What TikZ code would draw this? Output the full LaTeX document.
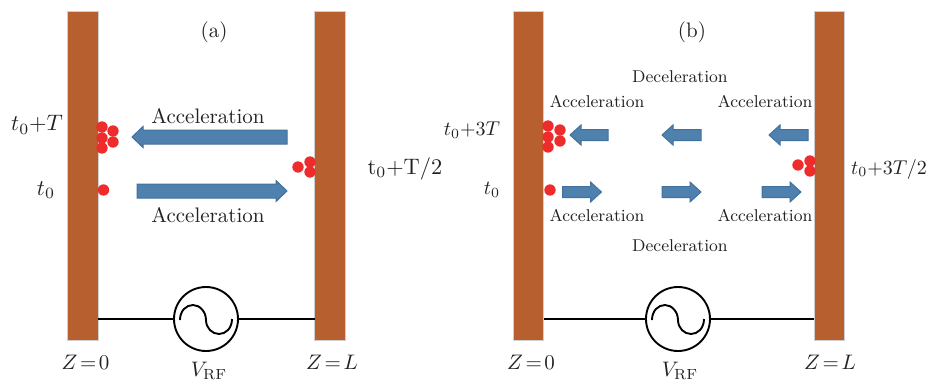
\RequirePackage{fix-cm}
\documentclass[tikz,border=0pt]{standalone}
\definecolor{plateC}{HTML}{B85F2F}
\definecolor{plateB}{HTML}{CFCFCF}
\definecolor{arrowC}{HTML}{4F81AF}
\definecolor{arrowB}{HTML}{41719C}
\definecolor{dotC}{HTML}{EE2C2C}
\definecolor{txt}{HTML}{222222}
\tikzset{
  plate/.style={draw=plateB,fill=plateC,line width=0.4pt,minimum width=15.25pt,minimum height=164.5pt,inner sep=0pt,outer sep=0pt},
  src/.style={circle,draw=black,line width=0.95pt,fill=white,minimum size=32pt,inner sep=0pt,outer sep=0pt},
  wire/.style={line width=0.95pt,draw=black},
  wave/.style={line width=0.95pt,draw=black},
  bunch/.style={circle,fill=dotC,minimum size=5.7pt,inner sep=0pt,outer sep=0pt},
  lbla/.style={font=\fontsize{10.5}{12}\selectfont,text=txt,inner sep=0pt},
  lblt/.style={font=\fontsize{11.2}{13}\selectfont,text=txt,inner sep=0pt},
  lblb/.style={font=\fontsize{8.55}{11}\selectfont,text=txt,inner sep=0pt},
  lblm/.style={font=\fontsize{10}{12}\selectfont,text=txt,inner sep=0pt},
  flow/.style={draw=arrowB,fill=arrowC,line width=0.5pt,line join=miter},
}
% tail x, tip x, y, shaft half height, head half height, head length (signed by direction)
\newcommand{\flowarrow}[6]{\path[flow] (#1,#3-#4) -- ({#2-(#6)},#3-#4) -- ({#2-(#6)},#3-#5) -- (#2,#3) -- ({#2-(#6)},#3+#5) -- ({#2-(#6)},#3+#4) -- (#1,#3+#4) -- cycle;}
\newcommand{\sinewave}[2]{\path[wave] (#1-26,#2+1) .. controls (#1-26,#2-8) and (#1-20,#2-14) .. (#1-13,#2-14) .. controls (#1-6,#2-14) and (#1,#2-7) .. (#1,#2+1) .. controls (#1,#2+9) and (#1+6,#2+15) .. (#1+13,#2+15) .. controls (#1+20,#2+15) and (#1+26,#2+9) .. (#1+26,#2);}
\newcommand{\tsp}{\mskip2.2mu}
\begin{document}
\begin{tikzpicture}[x=0.5pt,y=-0.5pt]
\useasboundingbox (0,0) rectangle (928,380);
% --- panel (a)
\node[plate] (pa1) at (83,175.5) {};
\node[plate] (pa2) at (330,175.5) {};
\node[src] (sa) at (206,319) {};
\draw[wire] (sa.west) -- (sa.west -| pa1.east);
\draw[wire] (sa.east) -- (sa.east -| pa2.west);
\sinewave{206}{319}
\flowarrow{287}{132}{137}{7}{10.5}{-11}
\flowarrow{137}{287}{191}{7}{10.5}{11}
\foreach \n/\x/\y in {a/102/127,b/113/131,c/102/138,d/113/142,e/102/148,f/103.5/190,g/298/167,h/310/162,i/310/172}
  \node[bunch] (da\n) at (\x,\y) {};
\node[lbla] (ta) at (214,32) {(a)};
\node[lbla] (a1) at (208,116) {Acceleration};
\node[lbla] (a2) at (208,215) {Acceleration};
\node[lblt] (a3) at (37,125) {$t_0{+}T$};
\node[lblt] (a4) at (46,190) {$t_0$};
\node[lblt] (a5) at (405,169) {$\mathrm{t_0{+}T/2}$};
\node[lbla] (a6) at (85.5,362) {$Z\tsp{=}\tsp0$};
\node[lbla] (a7) at (332,362) {$Z\tsp{=}\tsp L$};
\node[lbla] (a8) at (209,371) {$V_{\mathrm{RF}}$};
% --- panel (b)
\node[plate] (pb1) at (528.5,175.5) {};
\node[plate] (pb2) at (829.5,175.5) {};
\node[src] (sb) at (678,319) {};
\draw[wire] (sb.west) -- (sb.west -| pb1.east);
\draw[wire] (sb.east) -- (sb.east -| pb2.west);
\sinewave{678}{319}
\flowarrow{608}{570}{135}{5.5}{10}{-11}
\flowarrow{701}{662}{135}{5.5}{10}{-11}
\flowarrow{808}{769}{135}{5.5}{10}{-11}
\flowarrow{562.5}{601.5}{192}{5.5}{10}{11}
\flowarrow{662}{701}{192}{5.5}{10}{11}
\flowarrow{762}{801}{192}{5.5}{10}{11}
\foreach \n/\x/\y in {a/548/126,b/560/130,c/548/137,d/560/141,e/548/147,f/550/190,g/798/165,h/810/161,i/810/171}
  \node[bunch] (db\n) at (\x,\y) {};
\node[lbla] (tb) at (692,32) {(b)};
\node[lblb] (b1) at (680,77) {Deceleration};
\node[lblb] (b2) at (680,246) {Deceleration};
\node[lblb] (b3) at (597,101) {Acceleration};
\node[lblb] (b4) at (765,101) {Acceleration};
\node[lblb] (b5) at (597,215) {Acceleration};
\node[lblb] (b6) at (765,215) {Acceleration};
\node[lblm] (b7) at (472,130) {$t_0{+}3T$};
\node[lblm] (b8) at (492,190) {$t_0$};
\node[lblm] (b9) at (889,169) {$t_0{+}3T/2$};
\node[lbla] (b10) at (531,362) {$Z\tsp{=}\tsp0$};
\node[lbla] (b11) at (830,362) {$Z\tsp{=}\tsp L$};
\node[lbla] (b12) at (680,371) {$V_{\mathrm{RF}}$};
\end{tikzpicture}
\end{document}
